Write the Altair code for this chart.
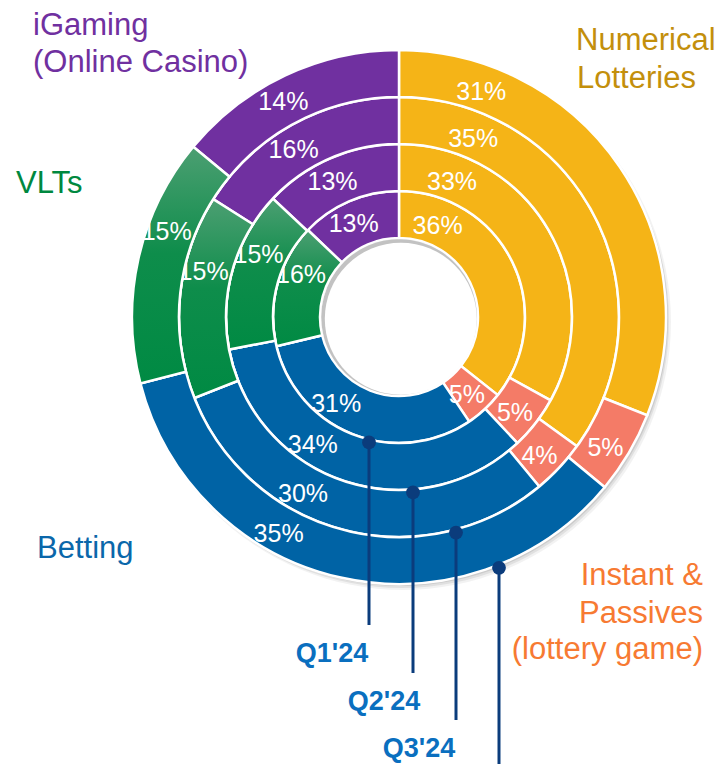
import math
import altair as alt
import pandas as pd

# ---------------- data ----------------
categories = ["Numerical Lotteries", "Instant & Passives (lottery game)", "Betting", "VLTs", "iGaming (Online Casino)"]
quarters = ["Q1'24", "Q2'24", "Q3'24", "Q4'24"]
share_q1 = [36, 5, 31, 16, 13]
share_q2 = [33, 5, 34, 15, 13]
share_q3 = [35, 4, 30, 15, 16]
share_q4 = [31, 5, 35, 15, 14]
shares = [share_q1, share_q2, share_q3, share_q4]

# ---------------- style / layout ----------------
colors = ["#F5B417", "#F47B67", "#0063A5", "#008C45", "#7030A0"]
FONT = "Liberation Sans"
W, H = 709, 756
CX, CY = 391, 309          # donut centre inside the plot area
R_HOLE = 79
RING_W = 47
label_frac = {"Numerical Lotteries": 0.18, "Instant & Passives (lottery game)": 0.6,
              "Betting": 0.63, "VLTs": 0.64, "iGaming (Online Casino)": 0.44}
label_roff = {"Numerical Lotteries": -4, "Instant & Passives (lottery game)": 1,
              "Betting": 5, "VLTs": 4, "iGaming (Online Casino)": 1}

rows = []
for qi, vals in enumerate(shares):
    total = sum(vals)
    cum = 0
    for ci, (c, v) in enumerate(zip(categories, vals)):
        start = cum / total
        cum += v
        end = cum / total
        rows.append(dict(ring=qi, quarter=quarters[qi], category=c, order=ci, value=v,
                         start=start, end=end, label=f"{v}%",
                         label_pos=start + label_frac[c] * (end - start)))
df = pd.DataFrame(rows)

theta_scale = alt.Scale(domain=[0, 1], range=[0, 2 * math.pi])
color_scale = alt.Scale(domain=categories, range=colors)
green_grad = alt.LinearGradient(
    gradient="linear", x1=0, y1=0, x2=0, y2=1,
    stops=[alt.GradientStop(color="#4C9F72", offset=0),
           alt.GradientStop(color="#0E8D4B", offset=0.45),
           alt.GradientStop(color="#008A43", offset=1)])

base = alt.Chart(df)
one = alt.Chart(pd.DataFrame({"k": [0]}))
center = dict(x=alt.value(CX), y=alt.value(CY))

layers = []
# soft outer shadow
R_OUT = R_HOLE + 4 * RING_W
for dx, dy, r, op in [(4, 5, R_OUT + 1, 0.05), (3, 4, R_OUT, 0.07), (2, 2, R_OUT, 0.09)]:
    layers.append(one.mark_arc(radius=r, radius2=0, theta=0, theta2=2 * math.pi,
                               fill="#000000", opacity=op, stroke=None)
                  .encode(x=alt.value(CX + dx), y=alt.value(CY + dy)))

for qi in range(4):
    r_in = R_HOLE + qi * RING_W
    r_out = r_in + RING_W
    ring = base.transform_filter(alt.datum.ring == qi)
    layers.append(ring.mark_arc(radius=r_out, radius2=r_in, stroke="white", strokeWidth=2.5)
                  .encode(theta=alt.Theta("start:Q", scale=theta_scale, stack=None),
                          theta2="end:Q",
                          color=alt.Color("category:N", scale=color_scale, legend=None),
                          order=alt.Order("order:Q"),
                          **center))
    layers.append(ring.transform_filter(alt.datum.category == "VLTs")
                  .mark_arc(radius=r_out, radius2=r_in, fill=green_grad, stroke="white", strokeWidth=2.5)
                  .encode(theta=alt.Theta("start:Q", scale=theta_scale, stack=None),
                          theta2="end:Q", **center))
    for cat in categories:
        layers.append(ring.transform_filter(alt.datum.category == cat)
                      .mark_text(radius=(r_in + r_out) / 2 + label_roff[cat], font=FONT, fontSize=25,
                                 color="white", align="center", baseline="middle")
                      .encode(theta=alt.Theta("label_pos:Q", scale=theta_scale, stack=None),
                              text="label:N", **center))

# inner shadow of the hole
layers.append(one.mark_arc(radius=R_HOLE - 1, radius2=0, theta=0, theta2=2 * math.pi,
                           fill="#b0b0b0", opacity=0.3, stroke=None)
              .encode(x=alt.value(CX), y=alt.value(CY)))
layers.append(one.mark_arc(radius=R_HOLE - 3, radius2=0, theta=0, theta2=2 * math.pi,
                           fill="white", stroke=None)
              .encode(x=alt.value(CX + 1.8), y=alt.value(CY + 1.8)))

# quarter call-outs
line_dx = [-30, 14, 57, 100]
line_end = [617, 665, 712, 767]
text_dx = [-37, -29, -37, -37]
ann_rows = []
for qi, q in enumerate(quarters):
    r = R_HOLE + (qi + 1) * RING_W + 3
    dx = line_dx[qi]
    py = CY + math.sqrt(r * r - dx * dx)
    ann_rows.append(dict(q=q, px=CX + dx, py=py, pend=line_end[qi],
                         tx=CX + dx + text_dx[qi], ty=line_end[qi] + 37))
ann_df = pd.DataFrame(ann_rows)
ann = alt.Chart(ann_df)
NAVY = "#0B3C7C"
layers.append(ann.mark_rule(color=NAVY, strokeWidth=3).encode(
    x=alt.X("px:Q", scale=None, axis=None), y=alt.Y("py:Q", scale=None, axis=None), y2="pend:Q"))
layers.append(ann.mark_circle(color=NAVY, size=190, opacity=1).encode(
    x=alt.X("px:Q", scale=None, axis=None), y=alt.Y("py:Q", scale=None, axis=None)))
# the last call-out label lies below the visible frame (as in the source), so only visible ones are drawn
layers.append(alt.Chart(ann_df[ann_df["ty"] < H]).mark_text(
    font=FONT, fontSize=27, fontWeight="bold", color="#0A6FBF",
    align="center", baseline="alphabetic").encode(
    x=alt.X("tx:Q", scale=None, axis=None), y=alt.Y("ty:Q", scale=None, axis=None), text="q:N"))

# category names
cat_left = pd.DataFrame([
    dict(t="iGaming", x=25, y=27, c="#7030A0"),
    dict(t="(Online Casino)", x=25, y=64, c="#7030A0"),
    dict(t="Numerical", x=568, y=42, c="#C38F0C"),
    dict(t="Lotteries", x=569, y=80, c="#C38F0C"),
    dict(t="VLTs", x=8, y=185, c="#00883F"),
    dict(t="Betting", x=29, y=550, c="#0A67AA"),
])
cat_right = pd.DataFrame([
    dict(t="Instant &", x=695, y=577, c="#F77A32"),
    dict(t="Passives", x=695, y=615, c="#F77A32"),
    dict(t="(lottery game)", x=695, y=651, c="#F77A32"),
])
for frame, al in [(cat_left, "left"), (cat_right, "right")]:
    layers.append(alt.Chart(frame).mark_text(font=FONT, fontSize=31, align=al, baseline="alphabetic")
                  .encode(x=alt.X("x:Q", scale=None, axis=None), y=alt.Y("y:Q", scale=None, axis=None),
                          text="t:N", color=alt.Color("c:N", scale=None)))

chart = alt.layer(*layers).properties(
    width=W, height=H, padding=0,
    autosize=alt.AutoSizeParams(type="none"),
).configure_view(stroke=None)

chart.save("out.html", embed_options={"renderer": "svg", "actions": False})
